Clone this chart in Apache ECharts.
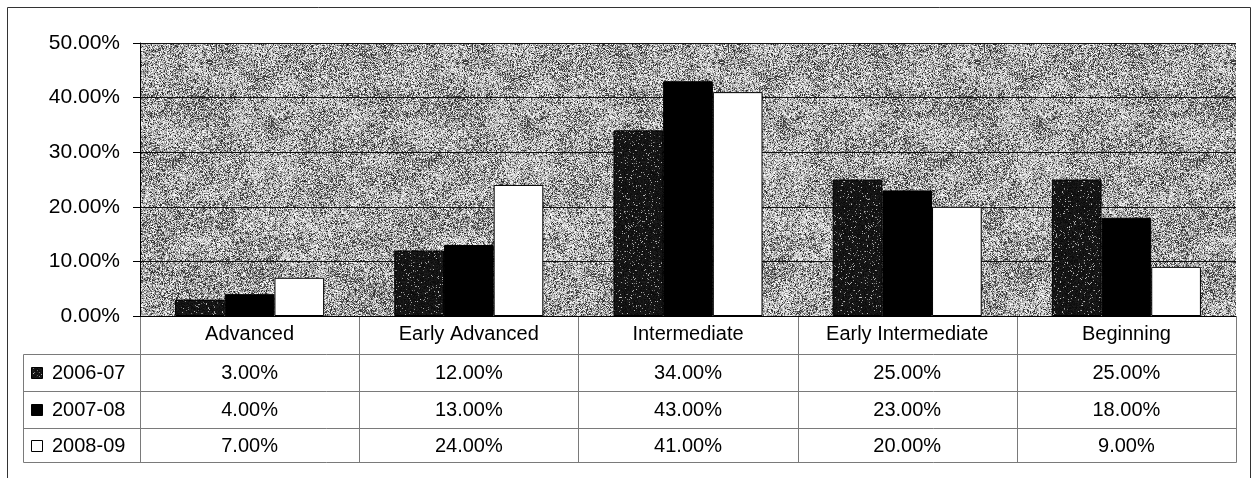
<!DOCTYPE html>
<html>
<head>
<meta charset="utf-8">
<script src="https://cdn.jsdelivr.net/npm/echarts@6/dist/echarts.min.js"></script>
<style>
  html, body { margin: 0; padding: 0; background: #ffffff; }
  #chart { width: 1253px; height: 478px; }
</style>
</head>
<body>
<div id="chart"></div>
<script>
// Share of students per proficiency level, by school year (percent)
const categories = ['Advanced', 'Early Advanced', 'Intermediate', 'Early Intermediate', 'Beginning'];
const seriesNames = ['2006-07', '2007-08', '2008-09'];
const values0607 = [3, 12, 34, 25, 25];
const values0708 = [4, 13, 43, 23, 18];
const values0809 = [7, 24, 41, 20, 9];
const yMax = 50;
const yStep = 10;

const FONT = '"Liberation Sans", Arial, sans-serif';

// Small deterministic generator so the textures look the same on every load
function makeRng(seed) {
  let s = seed >>> 0;
  return function () {
    s = (Math.imul(s, 1664525) + 1013904223) >>> 0;
    return s / 4294967296;
  };
}

// Speckled gray texture for the plot background, with soft lighter/darker patches
function plotTexture() {
  const size = 256;
  const cell = 16;
  const n = size / cell;
  const rnd = makeRng(9137);
  // coarse field, wrapped so the tile repeats seamlessly
  const coarse = [];
  for (let i = 0; i < n * n; i++) coarse.push(rnd() - 0.5);
  const at = (i, j) => coarse[((j + n) % n) * n + ((i + n) % n)];
  const c = document.createElement('canvas');
  c.width = size; c.height = size;
  const ctx = c.getContext('2d');
  const img = ctx.createImageData(size, size);
  for (let y = 0; y < size; y++) {
    for (let x = 0; x < size; x++) {
      const gx = x / cell, gy = y / cell;
      const i0 = Math.floor(gx), j0 = Math.floor(gy);
      const fx = gx - i0, fy = gy - j0;
      const m = (at(i0, j0) * (1 - fx) + at(i0 + 1, j0) * fx) * (1 - fy) +
                (at(i0, j0 + 1) * (1 - fx) + at(i0 + 1, j0 + 1) * fx) * fy;
      const r = rnd() + m * 0.35;
      let v;
      if (r < 0.26) v = 35 + rnd() * 75;
      else if (r < 0.58) v = 125 + rnd() * 60;
      else v = 190 + rnd() * 65;
      const k = (y * size + x) * 4;
      img.data[k] = v; img.data[k + 1] = v; img.data[k + 2] = v; img.data[k + 3] = 255;
    }
  }
  ctx.putImageData(img, 0, 0);
  return c;
}

// Near-black stippled texture for the 2006-07 bars
function darkTexture() {
  const size = 120;
  const c = document.createElement('canvas');
  c.width = size; c.height = size;
  const ctx = c.getContext('2d');
  const img = ctx.createImageData(size, size);
  const rnd = makeRng(4421);
  for (let i = 0; i < size * size; i++) {
    const r = rnd();
    let v = 10 + rnd() * 20;
    if (r < 0.07) v = 90 + rnd() * 110;
    img.data[i * 4] = v; img.data[i * 4 + 1] = v; img.data[i * 4 + 2] = v; img.data[i * 4 + 3] = 255;
  }
  ctx.putImageData(img, 0, 0);
  return c;
}

const plotFill = { image: plotTexture(), repeat: 'repeat' };
const darkFill = { image: darkTexture(), repeat: 'repeat' };

const seriesFills = [darkFill, '#000000', '#ffffff'];
const seriesValues = [values0607, values0708, values0809];

const chart = echarts.init(document.getElementById('chart'), null, { renderer: 'canvas' });

chart.setOption({
  animation: false,
  backgroundColor: '#ffffff',
  grid: {
    left: 140, right: 17, top: 43, bottom: 162,
    show: true,
    backgroundColor: plotFill,
    borderWidth: 0
  },
  xAxis: {
    type: 'category',
    data: categories,
    axisLine: { show: true, lineStyle: { color: '#000', width: 1 } },
    axisTick: { show: false },
    axisLabel: { color: '#000', fontFamily: FONT, fontSize: 20, margin: 8, interval: 0 }
  },
  yAxis: {
    type: 'value',
    min: 0, max: yMax, interval: yStep,
    axisLine: { show: true, lineStyle: { color: '#000', width: 1 } },
    axisTick: { show: true, inside: false, length: 7, lineStyle: { color: '#000' } },
    splitLine: { show: true, lineStyle: { color: '#111', width: 1 } },
    axisLabel: {
      color: '#000', fontFamily: FONT, fontSize: 21, margin: 20,
      formatter: v => v.toFixed(2) + '%'
    }
  },
  series: seriesNames.map((name, i) => ({
    name,
    type: 'bar',
    data: seriesValues[i],
    barGap: '0%',
    barCategoryGap: '32%',
    itemStyle: { color: seriesFills[i], borderColor: '#000', borderWidth: 1 }
  }))
});

// Data table under the plot, aligned to the category bands of the x axis
function drawTable() {
  const centers = categories.map(c => chart.convertToPixel({ xAxisIndex: 0 }, c));
  const band = (centers[centers.length - 1] - centers[0]) / (centers.length - 1);
  const edges = [centers[0] - band / 2].concat(centers.map(c => c + band / 2));
  const plotBottom = chart.convertToPixel({ yAxisIndex: 0 }, 0);
  const rowLines = [354, 391, 428, 462];
  const legendLeft = 23;
  const lineColor = '#7a7a7a';
  const px = v => Math.round(v) + 0.5;
  const els = [];

  const line = (x1, y1, x2, y2) => els.push({
    type: 'line', silent: true,
    shape: { x1: px(x1), y1: px(y1), x2: px(x2), y2: px(y2) },
    style: { stroke: lineColor, lineWidth: 1 }
  });

  // header row separators
  edges.forEach(x => line(x, plotBottom, x, rowLines[0]));
  // horizontal row rules
  rowLines.forEach(y => line(legendLeft, y, edges[edges.length - 1], y));
  // vertical rules through the value rows
  [legendLeft].concat(edges).forEach(x => line(x, rowLines[0], x, rowLines[rowLines.length - 1]));

  // cell values and legend keys
  seriesNames.forEach((name, r) => {
    const yMid = (rowLines[r] + rowLines[r + 1]) / 2;
    els.push({
      type: 'rect', silent: true,
      shape: { x: 31.5, y: Math.round(yMid - 5.5) + 0.5, width: 11, height: 11 },
      style: { fill: seriesFills[r], stroke: '#000', lineWidth: 1 }
    });
    els.push({
      type: 'text', silent: true, x: 52, y: yMid + 1,
      style: { text: name, font: '20px ' + FONT, fill: '#000', textAlign: 'left', textVerticalAlign: 'middle' }
    });
    seriesValues[r].forEach((v, c) => {
      els.push({
        type: 'text', silent: true, x: centers[c], y: yMid + 1,
        style: { text: v.toFixed(2) + '%', font: '20px ' + FONT, fill: '#000', textAlign: 'center', textVerticalAlign: 'middle' }
      });
    });
  });

  // outer frame of the chart area
  els.push({
    type: 'rect', silent: true,
    shape: { x: 7.5, y: 7.5, width: 1243, height: 520 },
    style: { fill: 'none', stroke: '#333', lineWidth: 1 }
  });

  chart.setOption({ graphic: els });
}

drawTable();
</script>
</body>
</html>
